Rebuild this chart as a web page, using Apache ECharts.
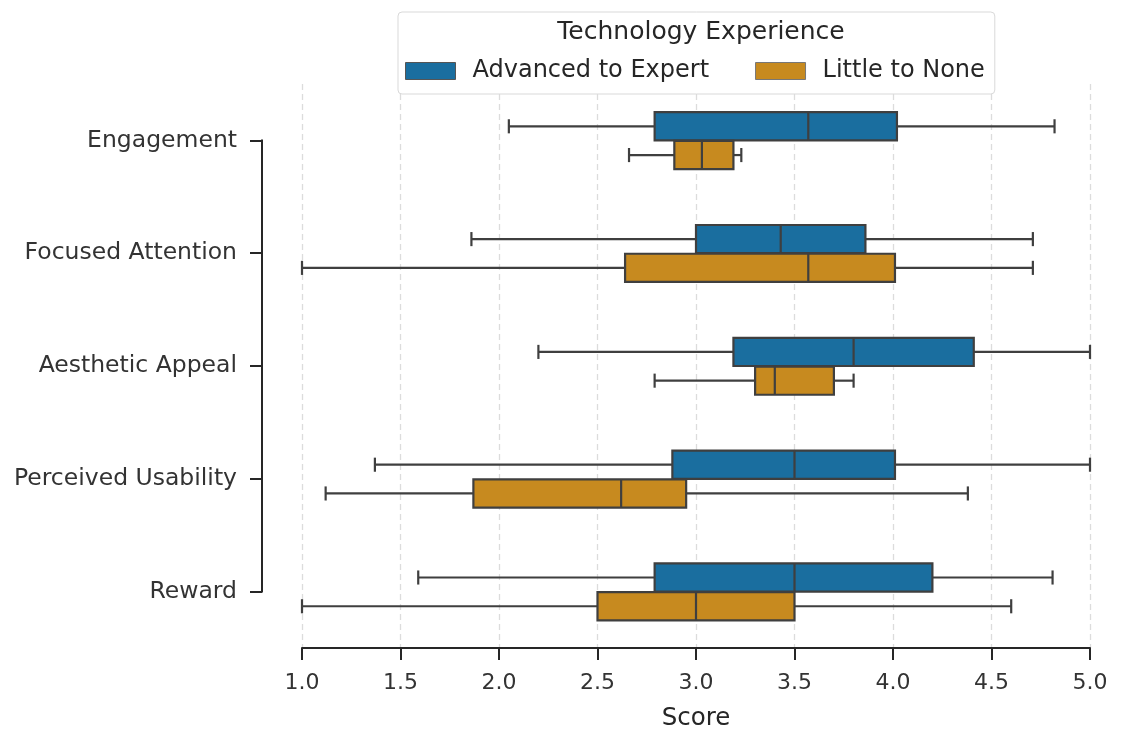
<!DOCTYPE html>
<html>
<head>
<meta charset="utf-8">
<script src="https://cdn.jsdelivr.net/npm/echarts@6/dist/echarts.min.js"></script>
<style>
html,body{margin:0;padding:0;background:#fff;}
#chart{width:1122px;height:731px;}
</style>
</head>
<body>
<div id="chart"></div>
<script>
// ---- data ----
const categories = ['Engagement', 'Focused Attention', 'Aesthetic Appeal', 'Perceived Usability', 'Reward'];
const groupNames = ['Advanced to Expert', 'Little to None'];
// [whiskerLow, Q1, median, Q3, whiskerHigh]
const advancedStats = [
  [2.05, 2.79, 3.57, 4.02, 4.82],
  [1.86, 3.00, 3.43, 3.86, 4.71],
  [2.20, 3.19, 3.80, 4.41, 5.00],
  [1.37, 2.88, 3.50, 4.01, 5.00],
  [1.59, 2.79, 3.50, 4.20, 4.81]
];
const littleStats = [
  [2.66, 2.89, 3.03, 3.19, 3.23],
  [1.00, 2.64, 3.57, 4.01, 4.71],
  [2.79, 3.30, 3.40, 3.70, 3.80],
  [1.12, 1.87, 2.62, 2.95, 4.38],
  [1.00, 2.50, 3.00, 3.50, 4.60]
];
const xTicks = [1.0, 1.5, 2.0, 2.5, 3.0, 3.5, 4.0, 4.5, 5.0];

// ---- styles ----
const FONT = 'DejaVu Sans';
const colors = ['#1a6e9f', '#c78a1f'];
const edge = '#3f3f3f';
const LW = 2.2;

function boxRenderer(offsetFrac) {
  return function (params, api) {
    const cat = api.value(0);
    const band = api.size([0, 1])[1];
    const pLow = api.coord([api.value(1), cat]);
    const pQ1 = api.coord([api.value(2), cat]);
    const pMed = api.coord([api.value(3), cat]);
    const pQ3 = api.coord([api.value(4), cat]);
    const pHigh = api.coord([api.value(5), cat]);
    const cy = pLow[1] + offsetFrac * band;
    const h = band * 0.25;
    const capH = h * 0.5;
    const lineStyle = { stroke: edge, lineWidth: LW };
    return {
      type: 'group',
      children: [
        { type: 'line', shape: { x1: pLow[0], y1: cy, x2: pQ1[0], y2: cy }, style: lineStyle },
        { type: 'line', shape: { x1: pQ3[0], y1: cy, x2: pHigh[0], y2: cy }, style: lineStyle },
        { type: 'line', shape: { x1: pLow[0], y1: cy - capH / 2, x2: pLow[0], y2: cy + capH / 2 }, style: lineStyle },
        { type: 'line', shape: { x1: pHigh[0], y1: cy - capH / 2, x2: pHigh[0], y2: cy + capH / 2 }, style: lineStyle },
        { type: 'rect', shape: { x: pQ1[0], y: cy - h / 2, width: pQ3[0] - pQ1[0], height: h },
          style: { fill: api.visual('color'), stroke: edge, lineWidth: LW } },
        { type: 'line', shape: { x1: pMed[0], y1: cy - h / 2, x2: pMed[0], y2: cy + h / 2 }, style: lineStyle }
      ]
    };
  };
}

function toItems(stats) {
  return stats.map((s, i) => [i].concat(s));
}

const chart = echarts.init(document.getElementById('chart'), null, { renderer: 'canvas' });

const option = {
  backgroundColor: '#ffffff',
  animation: false,
  textStyle: { fontFamily: FONT },
  title: {
    text: 'Technology Experience',
    left: 696, top: 15, textAlign: 'center', z: 10,
    textStyle: { fontFamily: FONT, fontSize: 25, fontWeight: 'normal', color: '#262626' }
  },
  legend: {
    data: [
      { name: groupNames[0], itemStyle: { color: colors[0], borderColor: '#555', borderWidth: 1 } },
      { name: groupNames[1], itemStyle: { color: colors[1], borderColor: '#777', borderWidth: 1 } }
    ],
    left: 398, top: 12, z: 3,
    orient: 'horizontal',
    icon: 'rect',
    itemWidth: 50, itemHeight: 17, itemGap: 46,
    padding: [47, 10, 11, 7],
    backgroundColor: '#fff',
    borderColor: '#d9d9d9', borderWidth: 1, borderRadius: 4,
    textStyle: { fontFamily: FONT, fontSize: 24, color: '#262626', padding: [0, 0, 0, 12] }
  },
  grid: { left: 302, right: 32, top: 84, bottom: 83, containLabel: false, outerBoundsMode: 'none' },
  xAxis: {
    type: 'value', min: 1, max: 5, interval: 0.5,
    name: 'Score', nameLocation: 'middle', nameGap: 58,
    nameTextStyle: { fontFamily: FONT, fontSize: 24.5, color: '#262626' },
    axisLine: { show: true, lineStyle: { color: '#262626', width: 2 } },
    axisTick: { show: true, length: 12, lineStyle: { color: '#262626', width: 2 } },
    axisLabel: { fontFamily: FONT, fontSize: 22, color: '#333', margin: 24,
      formatter: v => Number(v).toFixed(1) },
    splitLine: { show: true, lineStyle: { color: '#dcdcdc', width: 1.3, type: [6, 4] } }
  },
  yAxis: {
    type: 'category', data: categories, inverse: true, offset: 40,
    axisLine: { show: false },
    axisTick: { show: true, alignWithLabel: true, length: 12, lineStyle: { color: '#262626', width: 2 } },
    axisLabel: { fontFamily: FONT, fontSize: 23.5, color: '#333', margin: 25 },
    splitLine: { show: false }
  },
  series: [
    {
      name: groupNames[0], type: 'custom', itemStyle: { color: colors[0] },
      renderItem: boxRenderer(-0.125),
      encode: { x: [1, 2, 3, 4, 5], y: 0 },
      data: toItems(advancedStats), z: 5
    },
    {
      name: groupNames[1], type: 'custom', itemStyle: { color: colors[1] },
      renderItem: boxRenderer(0.13),
      encode: { x: [1, 2, 3, 4, 5], y: 0 },
      data: toItems(littleStats), z: 5
    },
    {
      name: 'spine', type: 'custom', silent: true, clip: false,
      renderItem: function (params, api) {
        const top = api.coord([xTicks[0], 0]);
        const bot = api.coord([xTicks[0], categories.length - 1]);
        const x = top[0] - 40;
        return { type: 'line', shape: { x1: x, y1: top[1] - 1, x2: x, y2: bot[1] + 1 },
          style: { stroke: '#262626', lineWidth: 2 } };
      },
      data: [[0]]
    }
  ]
};
chart.setOption(option);
</script>
</body>
</html>
